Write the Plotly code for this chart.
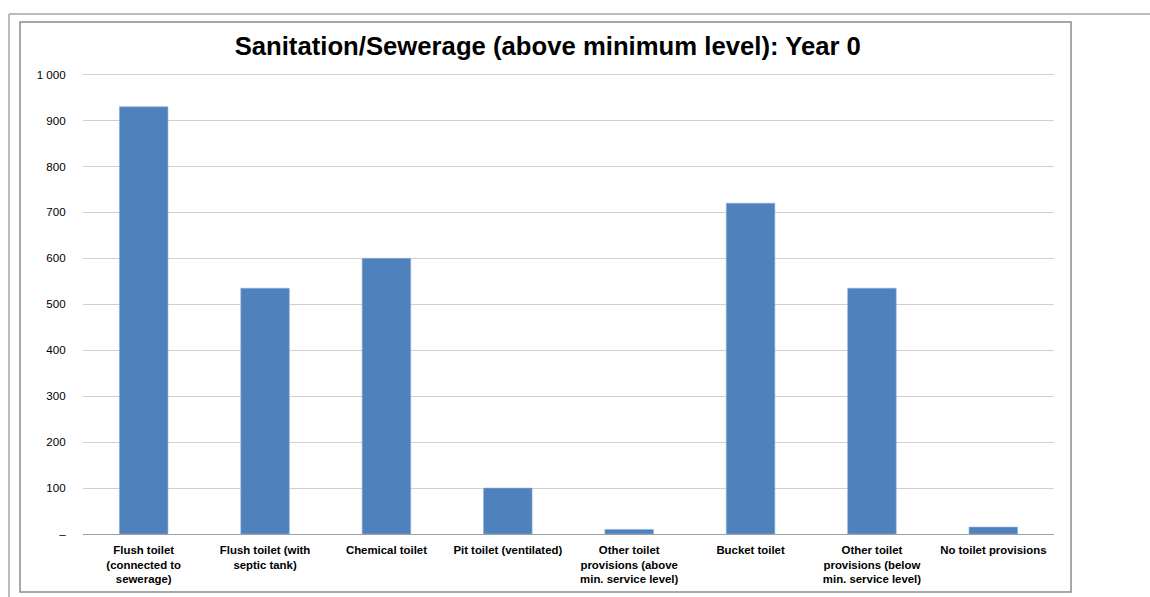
import plotly.graph_objects as go

categories = [
    "Flush toilet<br>(connected to<br>sewerage)",
    "Flush toilet (with<br>septic tank)",
    "Chemical toilet",
    "Pit toilet (ventilated)",
    "Other toilet<br>provisions (above<br>min. service level)",
    "Bucket toilet",
    "Other toilet<br>provisions (below<br>min. service level)",
    "No toilet provisions",
]
values = [930, 535, 600, 100, 10, 720, 535, 15]
y_tick_vals = [0, 100, 200, 300, 400, 500, 600, 700, 800, 900, 1000]
y_tick_text = ["–", "100", "200", "300", "400", "500", "600", "700", "800", "900", "1 000"]

W, H = 1150, 597
L, R, T, B = 83, 1054, 70, 534

def px(x):
    return (x - L) / (R - L)

def py(y):
    return (B - y) / (B - T)

fig = go.Figure(go.Bar(
    x=categories, y=values,
    marker=dict(color="#4F81BD", line=dict(color="#8FB0DA", width=0.6)),
))

shapes = [
    dict(type="line", xref="paper", yref="paper", x0=px(9), x1=px(1150), y0=py(14), y1=py(14),
         line=dict(color="#A6A6A6", width=1.5)),
    dict(type="line", xref="paper", yref="paper", x0=px(9), x1=px(9), y0=py(14), y1=py(597),
         line=dict(color="#A6A6A6", width=1.5)),
    dict(type="rect", xref="paper", yref="paper", x0=px(20), x1=px(1071), y0=py(22), y1=py(592),
         line=dict(color="#8C8C8C", width=1.5), fillcolor="rgba(0,0,0,0)", layer="below"),
]

fig.update_layout(
    width=W, height=H,
    margin=dict(l=L, r=W - R, t=T, b=H - B),
    paper_bgcolor="white", plot_bgcolor="white",
    bargap=0.6,
    showlegend=False,
    font=dict(family="Liberation Sans, Arial, sans-serif", color="#000000"),
    title=dict(text="<b>Sanitation/Sewerage (above minimum level): Year 0</b>",
               x=px(545.5), xanchor="center", y=1 - 46 / H, yanchor="middle",
               font=dict(size=25.7, family="Liberation Sans, Arial, sans-serif", color="#000")),
    xaxis=dict(tickfont=dict(size=11.4), showline=True, linecolor="#A0A0A0", linewidth=1,
               ticks="outside", ticklen=5, tickcolor="rgba(0,0,0,0)", tickangle=0, showgrid=False),
    yaxis=dict(range=[0, 1010], tickvals=y_tick_vals, ticktext=y_tick_text,
               tickfont=dict(size=11.6), showgrid=True, gridcolor="#D0D0D0", gridwidth=1,
               zeroline=False, showline=False, ticks="outside", ticklen=14,
               tickcolor="rgba(0,0,0,0)"),
    shapes=shapes,
)
fig.update_xaxes(tickprefix="<b>", ticksuffix="</b>")
fig.update_yaxes(tickprefix="<b>", ticksuffix="</b>")

fig.write_html("out.html")
